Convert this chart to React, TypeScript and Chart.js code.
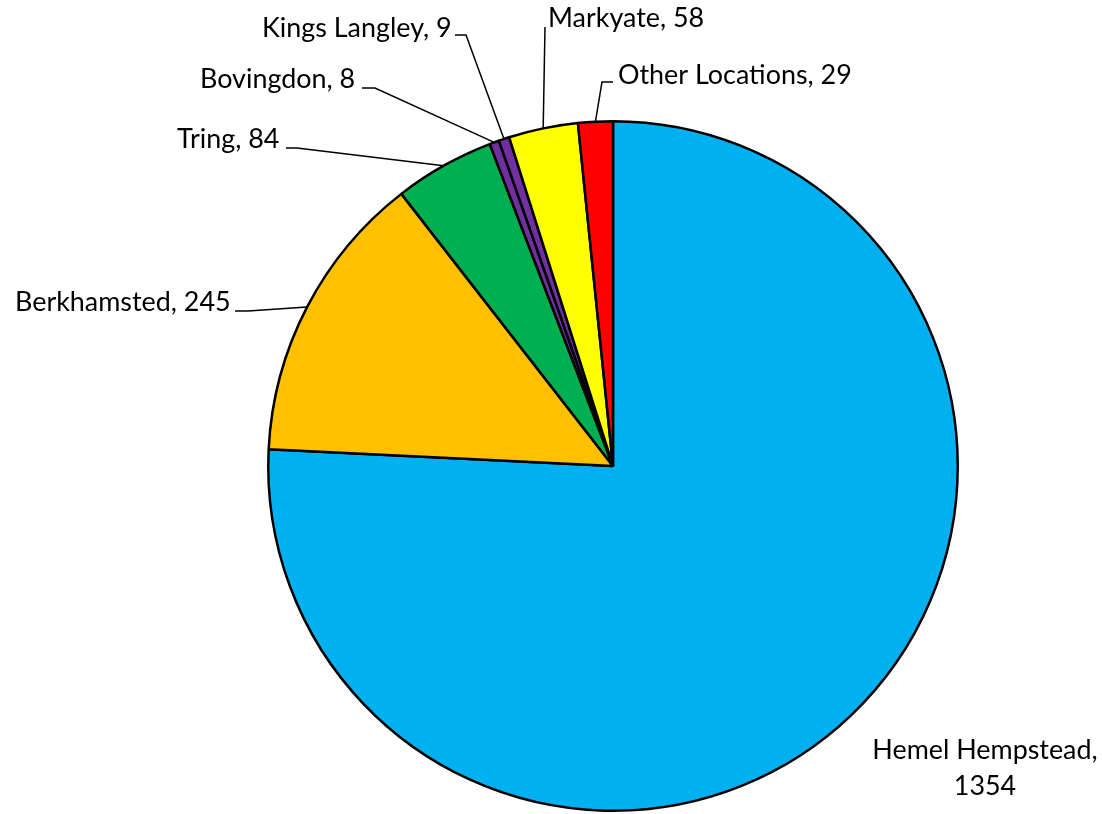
import React, { useEffect, useRef } from "react";
import { Chart, registerables } from "chart.js";

Chart.register(...registerables);

const categories = [
  "Hemel Hempstead",
  "Berkhamsted",
  "Tring",
  "Bovingdon",
  "Kings Langley",
  "Markyate",
  "Other Locations",
];
const values = [1354, 245, 84, 8, 9, 58, 29];
const colors = ["#00B0F0", "#FFC000", "#00B050", "#7030A0", "#7030A0", "#FFFF00", "#FF0000"];

// label layout: text anchor (left x / center y), leader path points before arc point
type LabelLayout = {
  lines: string[];
  x: number;
  y: number;
  align: CanvasTextAlign;
  leader: [number, number][];
};
const labelLayout: LabelLayout[] = [
  { lines: ["Hemel Hempstead,", "1354"], x: 985, y: 750, align: "center", leader: [] },
  { lines: ["Berkhamsted, 245"], x: 15, y: 302, align: "left", leader: [[235, 311], [248, 311]] },
  { lines: ["Tring, 84"], x: 177, y: 139, align: "left", leader: [[286, 148], [297, 148]] },
  { lines: ["Bovingdon, 8"], x: 200, y: 79, align: "left", leader: [[362, 88], [375, 88]] },
  { lines: ["Kings Langley, 9"], x: 262, y: 28, align: "left", leader: [[455, 35], [466, 35]] },
  { lines: ["Markyate, 58"], x: 548, y: 18, align: "left", leader: [[545, 27]] },
  { lines: ["Other Locations, 29"], x: 618, y: 75, align: "left", leader: [[613, 82], [602, 82]] },
];

const FONT = "Lato";

const labelPlugin = {
  id: "pieLabels",
  afterDraw(chart: any) {
    const ctx = chart.ctx as CanvasRenderingContext2D;
    const meta = chart.getDatasetMeta(0);
    ctx.save();
    // fit font size so "Hemel Hempstead," ~225px wide
    ctx.font = `100px ${FONT}`;
    const w100 = ctx.measureText("Hemel Hempstead,").width;
    const size = Math.round((225 / w100) * 100 * 10) / 10;
    ctx.font = `${size}px ${FONT}`;
    ctx.fillStyle = "#000000";
    ctx.textBaseline = "middle";
    ctx.strokeStyle = "#000000";
    ctx.lineWidth = 1.5;
    labelLayout.forEach((lab, i) => {
      const el = meta.data[i];
      if (lab.leader.length) {
        const p = el.getProps(["x", "y", "startAngle", "endAngle", "outerRadius"], true);
        const mid = (p.startAngle + p.endAngle) / 2;
        const ex = p.x + Math.cos(mid) * p.outerRadius;
        const ey = p.y + Math.sin(mid) * p.outerRadius;
        ctx.beginPath();
        ctx.moveTo(lab.leader[0][0], lab.leader[0][1]);
        for (let k = 1; k < lab.leader.length; k++) ctx.lineTo(lab.leader[k][0], lab.leader[k][1]);
        ctx.lineTo(ex, ey);
        ctx.stroke();
      }
      ctx.textAlign = lab.align;
      lab.lines.forEach((line, j) => {
        ctx.fillText(line, lab.x, lab.y + j * 36);
      });
    });
    ctx.restore();
  },
};

export default function App() {
  const ref = useRef<HTMLCanvasElement | null>(null);
  useEffect(() => {
    document.body.style.margin = "0";
    const canvas = ref.current;
    if (!canvas) return;
    const chart = new Chart(canvas, {
      type: "pie",
      data: {
        labels: categories,
        datasets: [
          {
            data: values,
            backgroundColor: colors,
            borderColor: "#000000",
            borderWidth: 2.5,
          },
        ],
      },
      options: {
        animation: false,
        responsive: false,
        maintainAspectRatio: false,
        layout: { padding: { left: 267, right: 143, top: 120, bottom: 2 } },
        plugins: {
          legend: { display: false },
          tooltip: { enabled: false },
          title: { display: false },
        },
      },
      plugins: [labelPlugin],
    });
    return () => chart.destroy();
  }, []);
  return (
    <div style={{ width: 1102, height: 814, background: "#ffffff" }}>
      <canvas ref={ref} width={1102} height={814} style={{ display: "block" }} />
    </div>
  );
}
